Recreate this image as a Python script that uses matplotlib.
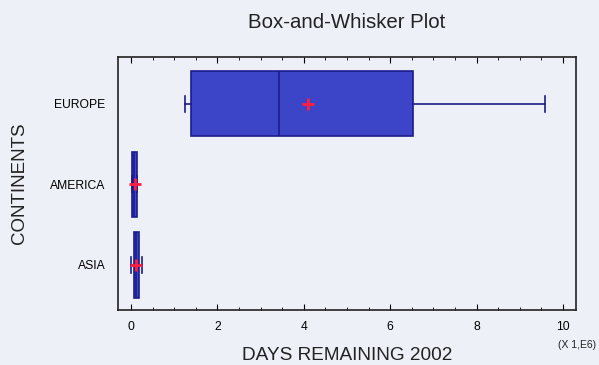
import matplotlib
matplotlib.use('Agg')
import matplotlib.pyplot as plt
from matplotlib.ticker import MultipleLocator

plt.rcParams['font.family'] = ['Liberation Sans', 'DejaVu Sans']

# data in units of 1e6 days
continents = ['ASIA', 'AMERICA', 'EUROPE']
whislo = [0.01, 0.02, 1.25]
q1     = [0.06, 0.02, 1.40]
median = [0.12, 0.08, 3.43]
q3     = [0.18, 0.15, 6.53]
whishi = [0.26, 0.15, 9.58]
means  = [0.12, 0.09, 4.10]

bg = '#eef0f8'
fig = plt.figure(figsize=(5.99, 3.65), dpi=100, facecolor=bg)
ax = fig.add_axes([118/599, 1-310/365, (576-118)/599, (310-57)/365])
ax.set_facecolor(bg)

stats = []
for i in range(len(continents)):
    stats.append(dict(label=continents[i], whislo=whislo[i], q1=q1[i], med=median[i],
                      q3=q3[i], whishi=whishi[i], mean=means[i], fliers=[]))

edge = '#1c1c8c'
ax.bxp(stats, positions=range(len(continents)), vert=False, widths=0.81,
       patch_artist=True, showmeans=True, showfliers=False,
       boxprops=dict(facecolor='#3c44c8', edgecolor=edge, linewidth=1.2),
       medianprops=dict(color=edge, linewidth=1.2),
       whiskerprops=dict(color=edge, linewidth=1.2),
       capprops=dict(color=edge, linewidth=1.2),
       capwidths=0.2,
       meanprops=dict(marker='+', markeredgecolor='#ff2040', markersize=8,
                      markeredgewidth=2))

ax.set_xlim(-0.3, 10.3)
ax.set_ylim(-0.56, 2.58)
ax.xaxis.set_major_locator(MultipleLocator(2))
ax.xaxis.set_minor_locator(MultipleLocator(0.5))
ax.tick_params(axis='x', which='both', direction='in', top=True, labelsize=8.7, pad=8)
ax.tick_params(axis='x', which='major', length=4)
ax.tick_params(axis='x', which='minor', length=2)
ax.tick_params(axis='y', length=0, labelsize=8.7, pad=9)
for s in ax.spines.values():
    s.set_linewidth(1.2)
    s.set_color('#222222')

ax.set_title('Box-and-Whisker Plot', fontsize=14.7, pad=21, color='#222222')
ax.set_xlabel('DAYS REMAINING 2002', fontsize=13.7, labelpad=10, color='#222222')
ax.set_ylabel('CONTINENTS', fontsize=13.5, labelpad=16, color='#222222')
fig.text(577/599, 1-345/365, '(X 1,E6)', fontsize=7.5, ha='center', va='center', color='#222222')

fig.savefig('out.png', dpi=100, facecolor=bg)
